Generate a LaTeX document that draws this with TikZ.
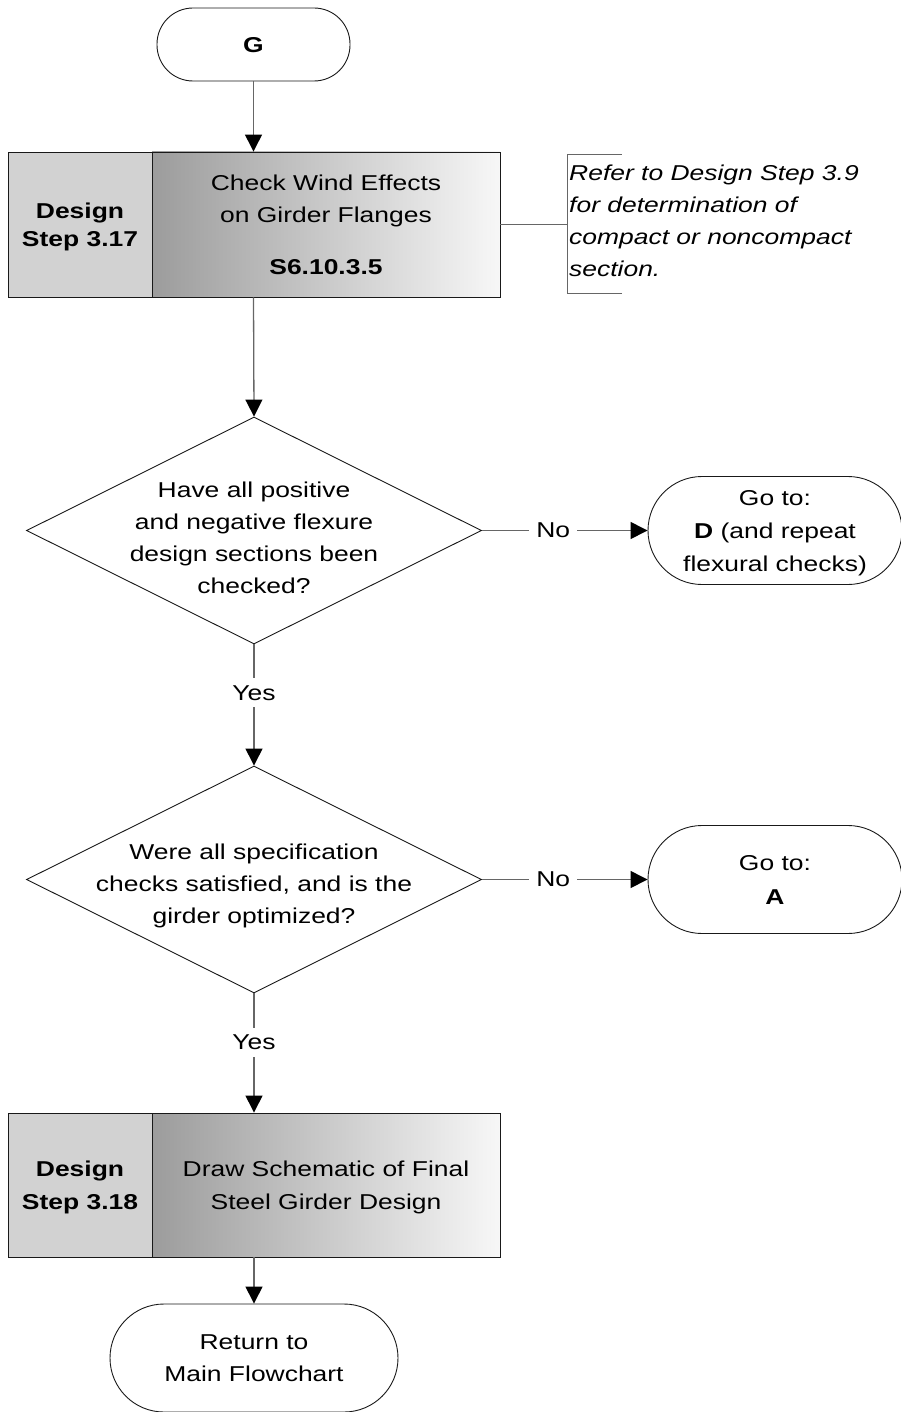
\documentclass[tikz,border=0pt]{standalone}
\usepackage{fontspec}
\setmainfont{Liberation Sans}[FakeStretch=1.23]
\usetikzlibrary{arrows.meta,shapes.geometric}
\definecolor{lnc}{HTML}{666666}
\definecolor{stepgray}{HTML}{D2D2D2}
\definecolor{gradl}{HTML}{9C9C9C}
\definecolor{gradr}{HTML}{F7F7F7}
\begin{document}
\begin{tikzpicture}[x=1pt,y=-1pt,
  fs/.style={font=\fontsize{21.5}{#1}\selectfont},
  fs/.default=32,
  every node/.style={text depth=0pt},
  outl/.style={draw=black!90, line width=0.9pt},
  conn/.style={draw=lnc, line width=1.3pt},
  arr/.style={conn, -{Triangle[width=17pt,length=17pt,color=black]}},
  lab/.style={fill=white, inner sep=7pt, fs},
  term/.style={outl, fill=white, rounded corners=#1, inner sep=0pt, align=center},
  steplbl/.style={outl, fill=stepgray, inner sep=0pt, minimum width=144pt, minimum height=145pt, align=center},
  stepmain/.style={outl, left color=gradl, right color=gradr, inner sep=0pt, minimum width=348pt, minimum height=145pt, align=center},
  decision/.style={outl, fill=white, shape=diamond, inner sep=0pt, minimum width=455pt, minimum height=227pt},
  dtext/.style={align=center, fs=32}
]
\useasboundingbox (0,0) rectangle (901,1412);

% start terminal
\node[term=36pt, minimum width=193pt, minimum height=73pt, fs] (G) at (253.5,44.5) {\bfseries G};

% design step 3.17
\node[steplbl, fs=28] (s1l) at (80,224.5) {\bfseries Design\\\bfseries Step 3.17};
\node[stepmain, fs=32] (s1) at (326,224.5) {Check Wind Effects\\on Girder Flanges\\[20pt]\bfseries S6.10.3.5};

% annotation
\coordinate (brk) at (567,224.5);
\node[anchor=west, align=left, fs=32, inner sep=0pt] (ann) at (569,220.5)
  {\itshape Refer to Design Step 3.9\\\itshape for determination of\\\itshape compact or noncompact\\\itshape section.};
\draw[conn, line width=1pt] (s1.east) -- (brk);
\draw[conn, line width=1pt] ([xshift=55pt,yshift=-69.5pt]brk) -- ([yshift=-69.5pt]brk) -- ([yshift=69.5pt]brk) -- ([xshift=55pt,yshift=69.5pt]brk);

% decision 1
\node[decision] (d1) at (254,530.5) {};
\node[dtext] (d1t) at (254,537.5) {Have all positive\\and negative flexure\\design sections been\\checked?};
\node[term=54pt, minimum width=254pt, minimum height=108pt, fs=33] (tD) at (775,530.5) {Go to:\\\textbf{D} (and repeat\\flexural checks)};

% decision 2
\node[decision] (d2) at (254,879.5) {};
\node[dtext] (d2t) at (254,884) {Were all specification\\checks satisfied, and is the\\girder optimized?};
\node[term=54pt, minimum width=254pt, minimum height=108pt, fs=34] (tA) at (775,879.5) {Go to:\\\bfseries A};

% design step 3.18
\node[steplbl, minimum height=144pt, fs=33] (s2l) at (80,1185) {\bfseries Design\\\bfseries Step 3.18};
\node[stepmain, minimum height=144pt, fs=33] (s2) at (326,1185) {Draw Schematic of Final\\Steel Girder Design};

% end terminal
\node[term=54pt, minimum width=288pt, minimum height=108pt, fs=32] (ret) at (254,1358) {Return to\\Main Flowchart};

% connectors
\draw[arr] (G.south) -- (G.south |- s1.north);
\draw[arr] (G.south |- s1.south) -- (d1.north);
\draw[arr] (d1.east) -- node[lab, pos=0.43] {No} (tD.west);
\draw[arr] (d1.south) -- node[lab, pos=0.40] {Yes} (d2.north);
\draw[arr] (d2.east) -- node[lab, pos=0.43] {No} (tA.west);
\draw[arr] (d2.south) -- node[lab, pos=0.41] {Yes} (d2.south |- s2.north);
\draw[arr] (d2.south |- s2.south) -- (ret.north);
\end{tikzpicture}
\end{document}
